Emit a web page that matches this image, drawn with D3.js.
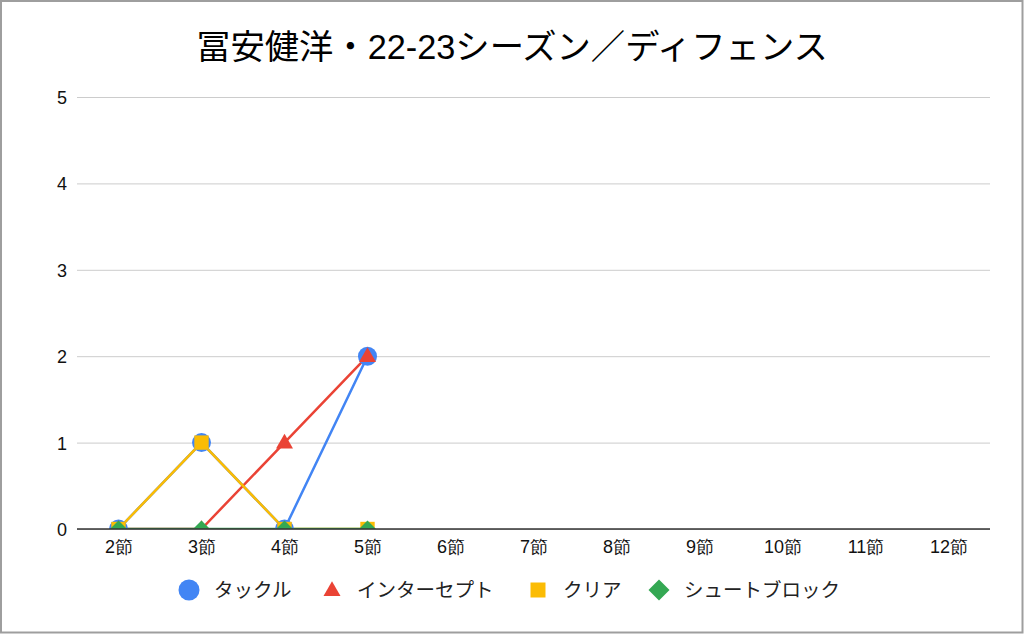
<!DOCTYPE html>
<html><head><meta charset="utf-8">
<script src="https://cdn.jsdelivr.net/npm/d3@7"></script>
<style>
html,body{margin:0;padding:0;background:#fff;}
svg{display:block;font-family:"Liberation Sans","Noto Sans CJK JP",Arial,sans-serif;}
</style></head><body>
<svg id="chart" width="1024" height="634"></svg>
<script>
const title = "冨安健洋・22-23シーズン／ディフェンス";
const categories = ["2節","3節","4節","5節","6節","7節","8節","9節","10節","11節","12節"];
const seriesNames = ["タックル","インターセプト","クリア","シュートブロック"];
const tackle = [0,1,0,2];
const intercept = [0,0,1,2];
const clear = [0,1,0,0];
const shotBlock = [0,0,0,0];
const yTicks = [0,1,2,3,4,5];
const colors = ["#4285F4","#EA4335","#FBBC04","#34A853"];
const shapes = ["circle","triangle","square","diamond"];

const W = 1024, H = 634;
const m = {left:77, right:990, top:97, bottom:529};
const svg = d3.select("#chart");
svg.append("rect").attr("x",1).attr("y",1).attr("width",W-2.5).attr("height",H-2.5)
  .attr("fill","#fff").attr("stroke","#9e9e9e").attr("stroke-width",2);

const x = d3.scalePoint().domain(categories).range([m.left,m.right]).padding(0.5);
const y = d3.scaleLinear().domain([0,5]).range([m.bottom,m.top]);

svg.append("text").attr("x",512).attr("y",59).attr("text-anchor","middle")
  .attr("font-size",34.3).attr("fill","#000").text(title);

const yAxis = d3.axisLeft(y).tickValues(yTicks).tickSize(-(m.right-m.left)).tickPadding(10).tickFormat(d3.format("d"));
const ga = svg.append("g").attr("transform",`translate(${m.left},0)`).call(yAxis);
ga.select(".domain").remove();
ga.selectAll(".tick line").attr("stroke","#cccccc");
ga.selectAll(".tick text").attr("font-size",18).attr("fill","#111").attr("dy","0.36em");

const xAxis = d3.axisBottom(x).tickSize(0).tickPadding(11);
const gx = svg.append("g").attr("transform",`translate(0,${m.bottom})`).call(xAxis);
gx.select(".domain").remove();
gx.selectAll(".tick text").attr("font-size",18).attr("fill","#111");

svg.append("defs").append("clipPath").attr("id","clip").append("rect")
  .attr("x",m.left).attr("y",m.top-20).attr("width",m.right-m.left).attr("height",m.bottom-m.top+20);

function shapePath(shape, s){
  const p = d3.path();
  if(shape==="circle"){ p.arc(0,0,s,0,2*Math.PI); }
  else if(shape==="triangle"){ const h=s*1.732; p.moveTo(0,-h*0.6); p.lineTo(s,h*0.4); p.lineTo(-s,h*0.4); p.closePath(); }
  else if(shape==="square"){ p.rect(-s,-s,2*s,2*s); }
  else { p.moveTo(0,-s); p.lineTo(s,0); p.lineTo(0,s); p.lineTo(-s,0); p.closePath(); }
  return p.toString();
}
const msize = {circle:9.5, triangle:8.5, square:7.2, diamond:8.5};

const data = [tackle,intercept,clear,shotBlock];
const plot = svg.append("g").attr("clip-path","url(#clip)");
const line = d3.line().x((d,i)=>x(categories[i])).y(d=>y(d));

data.forEach((vals,si)=>{
  plot.append("path").datum(vals).attr("d",line).attr("fill","none")
    .attr("stroke",colors[si]).attr("stroke-width",2.5);
});
data.forEach((vals,si)=>{
  plot.selectAll(null).data(vals).enter().append("path")
    .attr("d",shapePath(shapes[si],msize[shapes[si]]))
    .attr("transform",(d,i)=>`translate(${x(categories[i])},${y(d)})`)
    .attr("fill",colors[si]);
});

svg.append("line").attr("x1",m.left).attr("x2",m.right).attr("y1",m.bottom).attr("y2",m.bottom)
  .attr("stroke","#333").attr("stroke-width",1.5);

const legX = [189, 332, 538, 659];
const legT = [214, 357, 563, 684];
const lsize = {circle:10.5, triangle:8.5, square:7.5, diamond:10.5};
const leg = svg.append("g");
seriesNames.forEach((n,i)=>{
  leg.append("path").attr("d",shapePath(shapes[i],lsize[shapes[i]]))
    .attr("transform",`translate(${legX[i]},590)`).attr("fill",colors[i]);
  leg.append("text").attr("x",legT[i]).attr("y",597).attr("font-size",19.5)
    .attr("fill","#222").text(n);
});
</script></body></html>
